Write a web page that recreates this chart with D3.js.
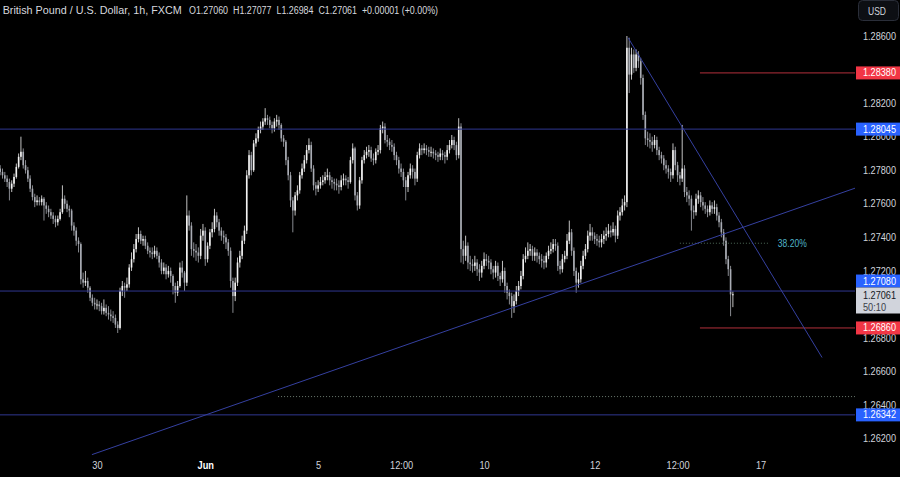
<!DOCTYPE html>
<html><head><meta charset="utf-8">
<script src="https://cdn.jsdelivr.net/npm/d3@7/dist/d3.min.js"></script>
<style>html,body{margin:0;padding:0;background:#000;overflow:hidden}svg{display:block}</style>
</head><body><svg id="c" width="900" height="477"></svg>
<script>
// ---- data (GBP/USD 1h, FXCM) ----
const firstOpen = 1.2781;
const closes = [
1.2779,1.2777,1.2775,1.2773,1.2769,1.2772,1.2776,1.2782,1.2788,1.2791,
1.2783,1.2780,1.2775,1.2769,1.2764,1.2761,1.2762,1.2761,1.2763,1.2759,
1.2757,1.2755,1.2753,1.2751,1.2749,1.2751,1.2755,1.2763,1.2760,1.2757,
1.2756,1.2747,1.2744,1.2738,1.2736,1.2715,1.2713,1.2714,1.2710,1.2704,
1.2701,1.2700,1.2700,1.2699,1.2696,1.2698,1.2695,1.2694,1.2693,1.2692,
1.2688,1.2686,1.2708,1.2711,1.2710,1.2712,1.2722,1.2727,1.2733,1.2739,
1.2742,1.2738,1.2739,1.2735,1.2732,1.2731,1.2730,1.2732,1.2729,1.2725,
1.2720,1.2722,1.2718,1.2720,1.2717,1.2711,1.2707,1.2711,1.2722,1.2719,
1.2713,1.2753,1.2747,1.2733,1.2732,1.2731,1.2729,1.2741,1.2744,1.2727,
1.2735,1.2743,1.2745,1.2753,1.2749,1.2744,1.2741,1.2740,1.2737,1.2732,
1.2714,1.2705,1.2713,1.2725,1.2729,1.2738,1.2744,1.2777,1.2789,1.2780,
1.2796,1.2799,1.2804,1.2806,1.2809,1.2811,1.2810,1.2807,1.2805,1.2809,
1.2810,1.2807,1.2799,1.2797,1.2786,1.2777,1.2762,1.2756,1.2765,1.2768,
1.2777,1.2781,1.2786,1.2792,1.2795,1.2781,1.2771,1.2769,1.2771,1.2773,
1.2774,1.2776,1.2777,1.2774,1.2773,1.2772,1.2771,1.2770,1.2774,1.2775,
1.2774,1.2773,1.2786,1.2793,1.2765,1.2759,1.2774,1.2786,1.2789,1.2791,
1.2792,1.2787,1.2786,1.2791,1.2792,1.2805,1.2806,1.2798,1.2797,1.2795,
1.2794,1.2789,1.2786,1.2781,1.2779,1.2774,1.2770,1.2777,1.2781,1.2779,
1.2775,1.2789,1.2793,1.2792,1.2793,1.2792,1.2791,1.2791,1.2790,1.2789,
1.2788,1.2790,1.2789,1.2788,1.2792,1.2795,1.2798,1.2795,1.2789,1.2806,
1.2733,1.2729,1.2735,1.2725,1.2724,1.2723,1.2725,1.2721,1.2719,1.2723,
1.2727,1.2726,1.2725,1.2721,1.2719,1.2723,1.2717,1.2715,1.2720,1.2711,
1.2707,1.2705,1.2699,1.2702,1.2708,1.2711,1.2717,1.2727,1.2729,1.2732,
1.2733,1.2729,1.2731,1.2729,1.2727,1.2726,1.2725,1.2729,1.2732,1.2733,
1.2736,1.2735,1.2723,1.2721,1.2727,1.2729,1.2738,1.2743,1.2732,1.2720,
1.2713,1.2715,1.2723,1.2729,1.2733,1.2741,1.2743,1.2741,1.2739,1.2738,
1.2737,1.2739,1.2741,1.2742,1.2744,1.2743,1.2745,1.2741,1.2753,1.2755,
1.2759,1.2761,1.2853,1.2837,1.2849,1.2841,1.2849,1.2845,1.2835,1.2813,
1.2799,1.2798,1.2797,1.2795,1.2798,1.2792,1.2789,1.2787,1.2783,1.2781,
1.2779,1.2777,1.2792,1.2783,1.2777,1.2775,1.2781,1.2767,1.2765,1.2763,
1.2756,1.2755,1.2763,1.2765,1.2761,1.2759,1.2757,1.2755,1.2759,1.2757,
1.2758,1.2753,1.2749,1.2743,1.2738,1.2727,1.2721,1.27060,1.27061];
const highs = [
1.2783,1.2781,1.2779,1.2777,1.2775,1.2774,1.2778,1.2784,1.2790,1.2800,
1.2793,1.2786,1.2782,1.2777,1.2771,1.2766,1.2765,1.2764,1.2765,1.2764,
1.2761,1.2759,1.2757,1.2755,1.2753,1.2753,1.2757,1.2771,1.2765,1.2762,
1.2759,1.2757,1.2749,1.2746,1.2740,1.2737,1.2719,1.2720,1.2716,1.2711,
1.2706,1.2704,1.2703,1.2702,1.2701,1.2703,1.2700,1.2699,1.2697,1.2696,
1.2694,1.2690,1.2710,1.2714,1.2713,1.2716,1.2724,1.2731,1.2736,1.2742,
1.2746,1.2744,1.2741,1.2741,1.2737,1.2734,1.2734,1.2735,1.2734,1.2731,
1.2727,1.2725,1.2724,1.2723,1.2722,1.2718,1.2713,1.2714,1.2725,1.2726,
1.2720,1.2765,1.2756,1.2749,1.2737,1.2736,1.2734,1.2745,1.2748,1.2746,
1.2737,1.2745,1.2749,1.2757,1.2755,1.2751,1.2746,1.2744,1.2742,1.2739,
1.2734,1.2716,1.2716,1.2728,1.2732,1.2741,1.2747,1.2780,1.2792,1.2791,
1.2798,1.2802,1.2806,1.2809,1.2811,1.2817,1.2813,1.2812,1.2809,1.2811,
1.2813,1.2812,1.2808,1.2801,1.2798,1.2788,1.2779,1.2764,1.2767,1.2771,
1.2779,1.2784,1.2789,1.2795,1.2799,1.2797,1.2783,1.2773,1.2774,1.2776,
1.2777,1.2779,1.2781,1.2779,1.2776,1.2775,1.2775,1.2774,1.2777,1.2778,
1.2777,1.2776,1.2788,1.2796,1.2794,1.2767,1.2776,1.2788,1.2792,1.2794,
1.2795,1.2794,1.2790,1.2793,1.2795,1.2807,1.2809,1.2808,1.2801,1.2799,
1.2798,1.2796,1.2791,1.2788,1.2784,1.2781,1.2776,1.2779,1.2784,1.2783,
1.2781,1.2791,1.2796,1.2795,1.2796,1.2795,1.2794,1.2794,1.2793,1.2792,
1.2791,1.2793,1.2792,1.2791,1.2795,1.2798,1.2801,1.2800,1.2797,1.2811,
1.2808,1.2738,1.2741,1.2737,1.2729,1.2727,1.2729,1.2727,1.2724,1.2726,
1.2731,1.2730,1.2729,1.2727,1.2723,1.2726,1.2725,1.2719,1.2726,1.2722,
1.2713,1.2709,1.2707,1.2706,1.2711,1.2714,1.2720,1.2730,1.2734,1.2737,
1.2736,1.2735,1.2734,1.2733,1.2731,1.2730,1.2729,1.2731,1.2735,1.2737,
1.2739,1.2739,1.2737,1.2726,1.2730,1.2732,1.2742,1.2750,1.2745,1.2734,
1.2722,1.2719,1.2726,1.2732,1.2736,1.2744,1.2748,1.2746,1.2743,1.2742,
1.2741,1.2742,1.2744,1.2746,1.2748,1.2747,1.2749,1.2747,1.2756,1.2758,
1.2763,1.2765,1.2860,1.2859,1.2853,1.2852,1.2852,1.2851,1.2847,1.2837,
1.2815,1.2803,1.2802,1.2800,1.2801,1.2800,1.2794,1.2791,1.2789,1.2786,
1.2783,1.2781,1.2796,1.2794,1.2785,1.2779,1.2807,1.2783,1.2770,1.2768,
1.2765,1.2759,1.2766,1.2768,1.2767,1.2764,1.2761,1.2759,1.2762,1.2761,
1.2762,1.2760,1.2755,1.2751,1.2745,1.2740,1.2729,1.2723,1.27077];
const lows = [
1.2777,1.2775,1.2773,1.2770,1.2762,1.2767,1.2770,1.2775,1.2781,1.2786,
1.2781,1.2778,1.2773,1.2767,1.2762,1.2758,1.2759,1.2759,1.2759,1.2750,
1.2754,1.2752,1.2751,1.2748,1.2746,1.2747,1.2750,1.2754,1.2757,1.2755,
1.2752,1.2744,1.2741,1.2735,1.2731,1.2712,1.2710,1.2711,1.2707,1.2702,
1.2699,1.2697,1.2697,1.2696,1.2694,1.2694,1.2693,1.2691,1.2690,1.2689,
1.2686,1.2683,1.2685,1.2705,1.2704,1.2708,1.2710,1.2720,1.2725,1.2731,
1.2737,1.2736,1.2735,1.2733,1.2730,1.2728,1.2727,1.2728,1.2727,1.2722,
1.2718,1.2718,1.2715,1.2716,1.2713,1.2706,1.2701,1.2705,1.2710,1.2716,
1.2708,1.2711,1.2744,1.2729,1.2728,1.2726,1.2725,1.2727,1.2738,1.2723,
1.2725,1.2733,1.2740,1.2743,1.2746,1.2741,1.2738,1.2736,1.2733,1.2729,
1.2710,1.2695,1.2702,1.2711,1.2722,1.2727,1.2736,1.2742,1.2775,1.2777,
1.2779,1.2794,1.2797,1.2802,1.2804,1.2807,1.2807,1.2805,1.2802,1.2803,
1.2806,1.2804,1.2797,1.2794,1.2783,1.2774,1.2758,1.2743,1.2753,1.2762,
1.2766,1.2775,1.2779,1.2784,1.2790,1.2779,1.2768,1.2765,1.2767,1.2769,
1.2771,1.2772,1.2774,1.2771,1.2769,1.2768,1.2768,1.2766,1.2768,1.2771,
1.2771,1.2769,1.2772,1.2784,1.2762,1.2756,1.2757,1.2772,1.2784,1.2787,
1.2788,1.2785,1.2783,1.2784,1.2789,1.2790,1.2802,1.2796,1.2794,1.2792,
1.2791,1.2786,1.2783,1.2778,1.2776,1.2770,1.2762,1.2767,1.2775,1.2775,
1.2771,1.2773,1.2787,1.2789,1.2790,1.2789,1.2788,1.2788,1.2787,1.2786,
1.2785,1.2786,1.2786,1.2784,1.2786,1.2790,1.2793,1.2792,1.2786,1.2787,
1.2725,1.2724,1.2726,1.2721,1.2720,1.2719,1.2720,1.2717,1.2714,1.2716,
1.2721,1.2723,1.2721,1.2718,1.2715,1.2716,1.2714,1.2711,1.2713,1.2707,
1.2703,1.2700,1.2692,1.2695,1.2700,1.2705,1.2709,1.2715,1.2725,1.2727,
1.2729,1.2726,1.2726,1.2725,1.2724,1.2722,1.2721,1.2722,1.2727,1.2730,
1.2731,1.2732,1.2720,1.2718,1.2719,1.2725,1.2727,1.2736,1.2729,1.2717,
1.2707,1.2710,1.2713,1.2721,1.2727,1.2731,1.2738,1.2738,1.2736,1.2735,
1.2734,1.2734,1.2736,1.2738,1.2740,1.2740,1.2741,1.2737,1.2739,1.2750,
1.2753,1.2756,1.2758,1.2826,1.2834,1.2838,1.2839,1.2841,1.2831,1.2810,
1.2795,1.2794,1.2793,1.2791,1.2793,1.2789,1.2786,1.2784,1.2780,1.2778,
1.2775,1.2773,1.2775,1.2780,1.2773,1.2771,1.2773,1.2764,1.2761,1.2759,
1.2744,1.2751,1.2753,1.2760,1.2758,1.2756,1.2754,1.2752,1.2753,1.2754,
1.2754,1.2750,1.2746,1.2740,1.2735,1.2724,1.2717,1.2693,1.26984];

// visible price-scale ticks (1.284 and 1.270 sit fully under the tags)
const priceTicks = [1.262,1.264,1.266,1.268,1.272,1.274,1.276,1.278,1.280,1.282,1.286];
const timeTickIdx = [42,89,138,174,210,258,294,330];
const timeTickLabels = ["30","Jun","5","12:00","10","12","12:00","17"];
const blueLevels = [1.28045, 1.27080, 1.26342];
const redLevels = [1.28380, 1.26860];
const supportDotted = 1.26451;
const fibLevel = 1.27365, fibLabel = "38.20%";
const risingTrend = [[39.8, 1.26105], [371, 1.27693]];
const fallingTrend = [[272.5, 1.2859], [356.7, 1.26684]];
const titleName = "British Pound / U.S. Dollar, 1h, FXCM";
const titleValues = "O1.27060  H1.27077  L1.26984  C1.27061  +0.00001 (+0.00%)";
const lastPrice = "1.27061", countdown = "50:10";

// ---- layout ----
const W = 900, H = 477, plotR = 855;
const FONT = "Liberation Sans, Arial, sans-serif";
const svg = d3.select("#c");
svg.append("rect").attr("width",W).attr("height",H).attr("fill","#000");
const x = d3.scaleLinear().domain([0, 371]).range([0.2, plotR]);
const y = d3.scaleLinear().domain([1.262, 1.286]).range([438.7, 36]);

const plot = svg.append("g");
plot.append("clipPath").attr("id","clp").append("rect").attr("x",0).attr("y",0).attr("width",plotR).attr("height",455);

// candles
const bars = closes.map((c,i)=>({i, o: i===0?firstOpen:closes[i-1], c, h: highs[i], l: lows[i]}));
const cg = plot.append("g").attr("clip-path","url(#clp)");
const upCol = "#f2f2f2", dnCol = "#a9acb4";
cg.selectAll("line.w").data(bars).join("line")
  .attr("x1",d=>x(d.i)).attr("x2",d=>x(d.i))
  .attr("y1",d=>y(Math.max(d.h,d.o,d.c))).attr("y2",d=>y(Math.min(d.l,d.o,d.c)))
  .attr("stroke",d=>d.c>=d.o?upCol:dnCol).attr("stroke-width",0.8);
cg.selectAll("rect.b").data(bars).join("rect")
  .attr("x",d=>x(d.i)-0.8).attr("width",1.6)
  .attr("y",d=>y(Math.max(d.o,d.c)))
  .attr("height",d=>Math.max(1, y(Math.min(d.o,d.c))-y(Math.max(d.o,d.c))))
  .attr("fill",d=>d.c>=d.o?upCol:dnCol);

// drawings
const lineCol = "#2f3790";
const dg = plot.append("g").attr("clip-path","url(#clp)");
dg.selectAll("line.h").data(blueLevels).join("line")
  .attr("x1",0).attr("x2",plotR).attr("y1",d=>y(d)).attr("y2",d=>y(d))
  .attr("stroke",lineCol).attr("stroke-width",1);
dg.selectAll("line.r").data(redLevels).join("line")
  .attr("x1",x(303.7)).attr("x2",plotR).attr("y1",d=>y(d)).attr("y2",d=>y(d))
  .attr("stroke","#b3303b").attr("stroke-width",1);
dg.append("line").attr("x1",x(120.6)).attr("x2",plotR).attr("y1",y(supportDotted)).attr("y2",y(supportDotted))
  .attr("stroke","#6b7a70").attr("stroke-width",1).attr("stroke-dasharray","1,2");
dg.append("line").attr("x1",x(295)).attr("x2",x(334)).attr("y1",y(fibLevel)).attr("y2",y(fibLevel))
  .attr("stroke","#4d6b58").attr("stroke-width",1).attr("stroke-dasharray","1,2");
[risingTrend, fallingTrend].forEach(t=>{
  dg.append("line").attr("x1",x(t[0][0])).attr("y1",y(t[0][1])).attr("x2",x(t[1][0])).attr("y2",y(t[1][1]))
    .attr("stroke","#3540a0").attr("stroke-width",1);
});
svg.append("text").attr("x",x(337.5)).attr("y",y(fibLevel)).attr("dy","0.35em")
  .attr("font-family",FONT).attr("font-size",11)
  .attr("fill","#4fb3c8").attr("textLength",29).attr("lengthAdjust","spacingAndGlyphs").text(fibLabel);

// title
const tg = svg.append("g").attr("font-family",FONT).attr("fill","#d6d8de");
tg.append("text").attr("x",2.7).attr("y",13.5).attr("font-size",11)
  .attr("textLength",179).attr("lengthAdjust","spacingAndGlyphs").text(titleName);
tg.append("text").attr("x",189).attr("y",13.5).attr("font-size",10).style("white-space","pre")
  .attr("textLength",249).attr("lengthAdjust","spacingAndGlyphs").text(titleValues);

// price axis
const fmt = d3.format(".5f");
const ya = svg.append("g").attr("transform",`translate(${plotR},0)`)
  .call(d3.axisRight(y).tickValues(priceTicks).tickSize(0).tickPadding(8).tickFormat(fmt));
ya.select(".domain").remove();
ya.attr("font-family",FONT).attr("font-size",10).attr("color","#d1d4dc");
ya.selectAll("text").attr("textLength",33).attr("lengthAdjust","spacingAndGlyphs");

// time axis
const xa = svg.append("g").attr("transform","translate(0,458)")
  .call(d3.axisBottom(x).tickValues(timeTickIdx).tickSize(0).tickPadding(3).tickFormat((d,i)=>timeTickLabels[i]));
xa.select(".domain").remove();
xa.attr("font-family",FONT).attr("font-size",11).attr("color","#d1d4dc");
xa.selectAll("text").each(function(d,i){
  const s = d3.select(this);
  if (timeTickLabels[i]==="Jun") s.attr("font-weight","bold").attr("fill","#ffffff");
  const w = this.getComputedTextLength();
  s.attr("textLength", w*0.84).attr("lengthAdjust","spacingAndGlyphs");
});

// price labels on axis
function tag(yc, h, fill, txt, col){
  const g = svg.append("g");
  g.append("rect").attr("x",856).attr("y",yc-h/2).attr("width",44).attr("height",h).attr("fill",fill);
  g.append("text").attr("x",863).attr("y",yc).attr("dy","0.35em").attr("font-family",FONT)
   .attr("font-size",10).attr("fill",col).attr("textLength",33).attr("lengthAdjust","spacingAndGlyphs").text(txt);
}
tag(y(redLevels[0]), 13, "#f23645", fmt(redLevels[0]), "#ffffff");
tag(y(blueLevels[0]), 13, "#2962ff", fmt(blueLevels[0]), "#ffffff");
tag(y(blueLevels[1])-10, 13, "#2962ff", fmt(blueLevels[1]), "#ffffff");
tag(y(redLevels[1]), 13, "#f23645", fmt(redLevels[1]), "#ffffff");
tag(y(blueLevels[2]), 13, "#2962ff", fmt(blueLevels[2]), "#ffffff");
// last price label
const pg = svg.append("g");
pg.append("rect").attr("x",856).attr("y",287.5).attr("width",44).attr("height",26).attr("fill","#d1d4dc");
pg.append("text").attr("x",863).attr("y",295).attr("dy","0.35em").attr("font-family",FONT)
  .attr("font-size",10).attr("fill","#131722").attr("textLength",33).attr("lengthAdjust","spacingAndGlyphs").text(lastPrice);
pg.append("text").attr("x",863).attr("y",307).attr("dy","0.35em").attr("font-family",FONT)
  .attr("font-size",10).attr("fill","#3a3e48").attr("textLength",23).attr("lengthAdjust","spacingAndGlyphs").text(countdown);

// currency button
svg.append("rect").attr("x",858.5).attr("y",0.5).attr("width",40).attr("height",20).attr("rx",4)
  .attr("fill","#0d0f14").attr("stroke","#2a2e39");
svg.append("text").attr("x",877).attr("y",11).attr("dy","0.35em").attr("text-anchor","middle")
  .attr("font-family",FONT).attr("font-size",11).attr("fill","#d1d4dc")
  .attr("textLength",18).attr("lengthAdjust","spacingAndGlyphs").text("USD");
</script></body></html>
